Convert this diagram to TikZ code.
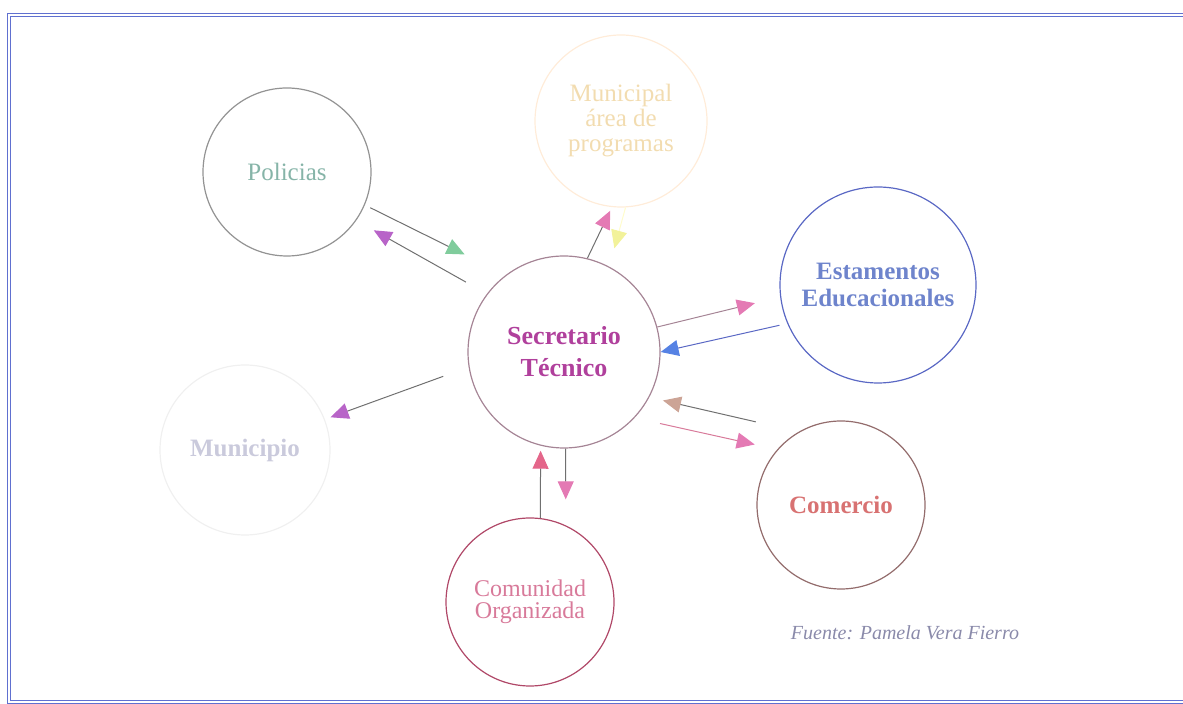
\documentclass[tikz,border=0pt]{standalone}
\usepackage{fontspec}
\setmainfont{Liberation Serif}
\usetikzlibrary{arrows.meta}

\definecolor{frameblue}{HTML}{6070D0}
\definecolor{linkgray}{HTML}{707070}
\definecolor{headgreen}{HTML}{80CC9C}
\definecolor{headpurple}{HTML}{B864C8}
\definecolor{headpink}{HTML}{E47AB4}
\definecolor{headyellow}{HTML}{F2F29A}
\definecolor{headblue}{HTML}{5682E4}
\definecolor{headtan}{HTML}{CCA496}
\definecolor{headred}{HTML}{E4668A}
\definecolor{sectext}{HTML}{B0409C}
\definecolor{esttext}{HTML}{6E84CC}
\definecolor{estline}{HTML}{5A68C4}
\definecolor{comtext}{HTML}{D87272}
\definecolor{comutext}{HTML}{D87A9A}
\definecolor{comuline}{HTML}{B04868}
\definecolor{poltext}{HTML}{86B4A8}
\definecolor{toptext}{HTML}{F2DCB0}
\definecolor{muntext}{HTML}{CACADC}
\definecolor{fuentetext}{HTML}{8A8AAA}

\tikzstyle{actor} = [circle, draw=gray!85, line width=0.6pt, inner sep=0pt, align=center, font=\fontsize{12.5}{12.5}\selectfont]
\tikzstyle{link} = [draw=linkgray, line width=0.5pt]
\tikzset{arrowto/.style={-{Triangle[length=9pt,width=8pt,color=#1]}}}

\begin{document}
\begin{tikzpicture}[x=0.5pt, y=-0.5pt]
  \useasboundingbox (0,0) rectangle (1183,704);
  % marco
  \draw[frameblue, double, double distance=1.2pt, line width=0.5pt] (9,15) rectangle (1190,702);

  \node (sec) [actor, minimum size=96pt, draw=gray!80!magenta, text=sectext, font=\fontsize{13}{16}\selectfont\bfseries] at (564,352) {Secretario\\Técnico};
  \node (pol) [actor, minimum size=84pt, text=poltext] at (287,172) {Policias};
  \node (top) [actor, minimum size=86pt, draw=orange!15, text=toptext] at (621,121) {Municipal\\área de\\programas};
  \node (est) [actor, minimum size=98pt, draw=estline, text=esttext, font=\fontsize{12.5}{13.5}\selectfont\bfseries] at (878,285) {Estamentos\\Educacionales};
  \node (mun) [actor, minimum size=85pt, draw=gray!12, text=muntext, font=\fontsize{12.5}{12.5}\selectfont\bfseries] at (245,450) {Municipio};
  \node (com) [actor, minimum size=84pt, draw=gray!85!red, text=comtext, font=\fontsize{12.5}{12.5}\selectfont\bfseries] at (841,505) {Comercio};
  \node (comu) [actor, minimum size=84pt, draw=comuline, text=comutext, font=\fontsize{12}{11}\selectfont] at (530,602) {Comunidad\\Organizada};

  \node (fuente) [text=fuentetext, font=\fontsize{10}{10}\selectfont\itshape] at (905,633) {Fuente: Pamela Vera Fierro};

  % flechas
  \draw[link, arrowto=headgreen, shorten <=3pt, shorten >=23pt] (pol.-23) -- (sec.127);
  \draw[link, arrowto=headpurple, shorten <=12pt, shorten >=10pt] (sec.143) -- (pol.-35);
  \draw[link, arrowto=headpink, shorten >=2pt] (sec.76) -- (top.-96);
  \draw[link, draw=yellow!20, arrowto=headyellow, shorten >=9.5pt] (top.-87) -- (sec.62);
  \draw[link, draw=gray!80!magenta, arrowto=headpink, shorten >=13pt] (sec.15) -- (est.187);
  \draw[link, draw=estline, arrowto=headblue, shorten <=4pt] (est.203) -- (sec.0);
  \draw[link, arrowto=headtan, shorten <=22pt, shorten >=7pt] (com.120) -- (sec.-28);
  \draw[link, draw=comutext, arrowto=headpink, shorten <=13pt, shorten >=11.5pt] (sec.-43) -- (com.139);
  \draw[link, arrowto=headpurple, shorten <=13.5pt, shorten >=3pt] (sec.189) -- (mun.21);
  \draw[link, arrowto=headred, shorten >=2.5pt] (comu.83) -- (sec.-104.5);
  \draw[link, arrowto=headpink, shorten >=13pt] (sec.-89) -- (comu.65);
\end{tikzpicture}
\end{document}
